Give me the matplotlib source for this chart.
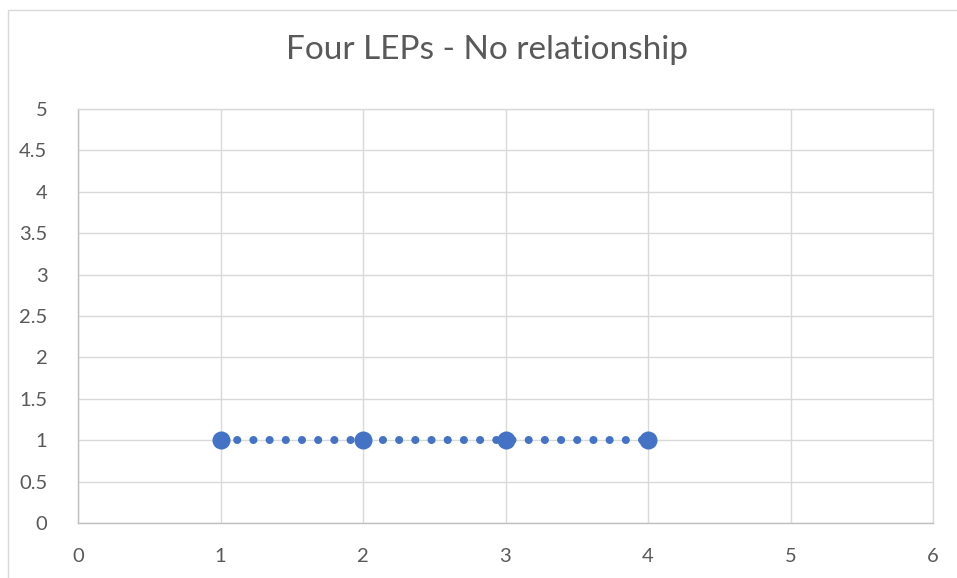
import matplotlib
matplotlib.use("Agg")
import matplotlib.pyplot as plt
from matplotlib.patches import Rectangle
import numpy as np

# Data
x_values = [1, 2, 3, 4]
y_values = [1, 1, 1, 1]
x_ticks = [0, 1, 2, 3, 4, 5, 6]
y_ticks = [0, 0.5, 1, 1.5, 2, 2.5, 3, 3.5, 4, 4.5, 5]
title = "Four LEPs - No relationship"

BLUE = "#4472C4"
TEXT = "#595959"
GRID = "#D9D9D9"
AXIS = "#BFBFBF"

W, H = 957, 578
fig = plt.figure(figsize=(W / 100, H / 100), dpi=100)
fig.patch.set_facecolor("white")

# chart-area border
fig.patches.append(Rectangle((8 / W, -0.1), 1.2, (H - 10) / H + 0.1,
                             transform=fig.transFigure, fill=False,
                             edgecolor=GRID, linewidth=1.0))

left, right, top, bottom = 78, 933, 109, 523
ax = fig.add_axes([left / W, (H - bottom) / H, (right - left) / W, (bottom - top) / H])

ax.set_xlim(0, 6)
ax.set_ylim(0, 5)
ax.set_xticks(x_ticks)
ax.set_yticks(y_ticks)
ax.set_xticklabels([f"{t:g}" for t in x_ticks])
ax.set_yticklabels([f"{t:g}" for t in y_ticks])

ax.grid(True, color=GRID, linewidth=1.0)
ax.set_axisbelow(True)
for side in ["top", "right"]:
    ax.spines[side].set_color(GRID)
    ax.spines[side].set_linewidth(1.0)
for side in ["left", "bottom"]:
    ax.spines[side].set_color(AXIS)
    ax.spines[side].set_linewidth(1.0)

ax.tick_params(length=0, labelsize=14.5, labelcolor=TEXT)
ax.tick_params(axis="y", pad=22)
ax.tick_params(axis="x", pad=18)
for lab in ax.get_xticklabels() + ax.get_yticklabels():
    lab.set_fontfamily("Lato")

# linear trendline (dotted)
coef = np.polyfit(x_values, y_values, 1)
tx = np.array([min(x_values), max(x_values)])
ax.plot(tx, np.polyval(coef, tx), color=BLUE, linewidth=5.8,
        linestyle=(0, (0.01, 2.0)), dash_capstyle="round", zorder=3)

# data points
ax.scatter(x_values, y_values, s=13 ** 2, color=BLUE, zorder=4, linewidths=0)

fig.text(0.5 * (288 + 686) / W, 1 - 59 / H, title, ha="center", va="baseline",
         fontsize=24, color=TEXT, fontfamily="Lato")

fig.savefig("out.png", dpi=100)
